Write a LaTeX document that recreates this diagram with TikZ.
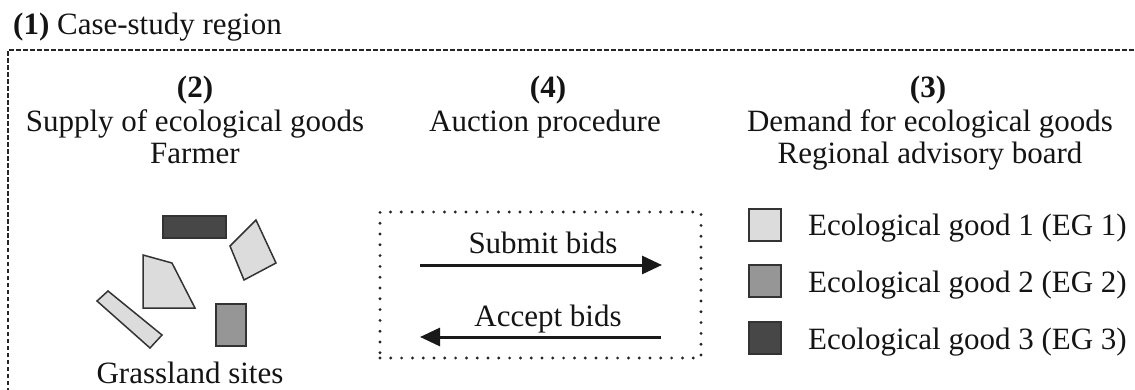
\documentclass[tikz,border=0pt]{standalone}
\usepackage{fontspec}
\setmainfont{Liberation Serif}
\usetikzlibrary{arrows.meta}
\definecolor{egone}{HTML}{DCDCDC}
\definecolor{egtwo}{HTML}{969696}
\definecolor{egthree}{HTML}{474747}
\definecolor{edgegray}{HTML}{333333}
\begin{document}
\begin{tikzpicture}[x=1pt,y=-1pt,
  txt/.style={font=\fontsize{31}{33}\selectfont, inner sep=0pt, anchor=base, text=black!92},
  framedash/.style={line width=2.3pt, dash pattern=on 4.5pt off 2.5pt, black!85},
  dotbox/.style={draw=black!85, line width=3.2pt, line cap=round, dash pattern=on 0pt off 10.8pt, inner sep=0pt},
  bidarrow/.style={line width=3pt, black!90, -{Triangle[length=20pt,width=18pt]}},
  legsq/.style={draw=edgegray, line width=1.5pt, minimum size=32pt, inner sep=0pt},
  site/.style={draw=edgegray, line width=1.5pt, line join=miter}]
\useasboundingbox (0,0) rectangle (1135,390);

% title and case-study frame
\node[txt, anchor=base west] (title) at (13,35) {\textbf{(1)} Case-study region};
\draw[framedash] (8,392) -- (8,50) -- (1137,50);

% column headings
\node[txt] (n2) at (195,98) {\textbf{(2)}};
\node[txt] (sup) at (195,132) {Supply of ecological goods};
\node[txt] (farm) at (195,164) {Farmer};

\node[txt] (n4) at (548,98) {\textbf{(4)}};
\node[txt] (auc) at (545,132) {Auction procedure};

\node[txt] (n3) at (928,98) {\textbf{(3)}};
\node[txt] (dem) at (930,132) {Demand for ecological goods};
\node[txt] (reg) at (930,164) {Regional advisory board};

% grassland sites
\draw[site, fill=egthree] (163,216) rectangle (226,238);
\draw[site, fill=egone] (256,220) -- (276,263) -- (244,280) -- (230,246) -- cycle;
\draw[site, fill=egone] (143,255) -- (172,263) -- (195,308) -- (143,308) -- cycle;
\draw[site, fill=egone] (97,301) -- (108,291) -- (162,335) -- (150,348) -- cycle;
\draw[site, fill=egtwo] (216,304) rectangle (246,346);
\node[txt] (grass) at (190,383) {Grassland sites};

% auction procedure box
\node[dotbox, minimum width=321pt, minimum height=146pt] (box) at (540.5,285) {};
\coordinate (s1) at (420,265);
\coordinate (s2) at (662,265);
\coordinate (a1) at (661,337);
\coordinate (a2) at (420,337);
\draw[bidarrow] (s1) -- (s2);
\draw[bidarrow] (a1) -- (a2);
\node[txt] (sub) at (543,253) {Submit bids};
\node[txt] (acc) at (548,326) {Accept bids};

% legend
\node[legsq, fill=egone] (q1) at (765,225) {};
\node[legsq, fill=egtwo] (q2) at (765,281) {};
\node[legsq, fill=egthree] (q3) at (765,338) {};
\node[txt, anchor=base west] (l1) at (808,236) {Ecological good 1 (EG 1)};
\node[txt, anchor=base west] (l2) at (808,292) {Ecological good 2 (EG 2)};
\node[txt, anchor=base west] (l3) at (808,349) {Ecological good 3 (EG 3)};
\end{tikzpicture}
\end{document}
